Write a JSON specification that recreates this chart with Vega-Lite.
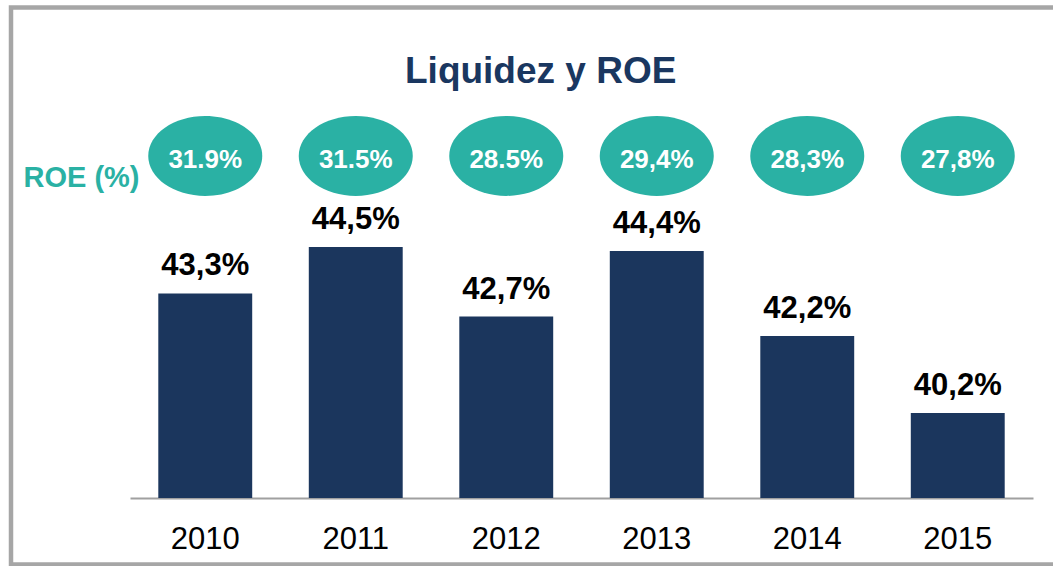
{
  "$schema": "https://vega.github.io/schema/vega-lite/v6.json",
  "autosize": {"type": "none"},
  "width": 1046,
  "height": 557,
  "padding": {"left": 11, "top": 7.5, "right": 0, "bottom": 1.5},
  "background": "white",
  "config": {
    "view": {"stroke": "#a6a6a6", "strokeWidth": 4.5},
    "font": "Liberation Sans"
  },
  "title": {
    "text": "Liquidez y ROE",
    "fontSize": 37,
    "fontWeight": "bold",
    "color": "#1a3760",
    "font": "Liberation Sans",
    "anchor": "start",
    "baseline": "alphabetic",
    "dx": 394,
    "dy": 35,
    "offset": -77.5
  },
  "data": {
    "values": [
      {"year": "2010", "liquidez": 43.3, "liq_label": "43,3%", "roe": 31.9, "roe_label": "31.9%"},
      {"year": "2011", "liquidez": 44.5, "liq_label": "44,5%", "roe": 31.5, "roe_label": "31.5%"},
      {"year": "2012", "liquidez": 42.7, "liq_label": "42,7%", "roe": 28.5, "roe_label": "28.5%"},
      {"year": "2013", "liquidez": 44.4, "liq_label": "44,4%", "roe": 29.4, "roe_label": "29,4%"},
      {"year": "2014", "liquidez": 42.2, "liq_label": "42,2%", "roe": 28.3, "roe_label": "28,3%"},
      {"year": "2015", "liquidez": 40.2, "liq_label": "40,2%", "roe": 27.8, "roe_label": "27,8%"}
    ]
  },
  "encoding": {
    "x": {
      "field": "year",
      "type": "nominal",
      "sort": null,
      "scale": {"range": [119, 1022], "paddingInner": 0.376, "paddingOuter": 0.188},
      "axis": {
        "title": null,
        "orient": "bottom",
        "offset": -66.5,
        "labelAngle": 0,
        "labelFontSize": 31,
        "labelColor": "#000000",
        "labelFont": "Liberation Sans",
        "labelBaseline": "alphabetic",
        "labelPadding": 50,
        "ticks": false,
        "tickSize": 0,
        "domainColor": "#a0a0a0",
        "domainWidth": 2,
        "grid": false
      }
    }
  },
  "layer": [
    {
      "mark": {"type": "bar", "color": "#1b365d"},
      "encoding": {
        "y": {
          "field": "liquidez",
          "type": "quantitative",
          "scale": {"domain": [38, 47.5], "range": [490.5, 123.8], "zero": false, "nice": false},
          "axis": {
            "title": "ROE (%)",
            "titleAngle": 0,
            "titleFontSize": 29,
            "titleFontWeight": "bold",
            "titleColor": "#2ab1a4",
            "titleFont": "Liberation Sans",
            "titleAlign": "center",
            "titleBaseline": "alphabetic",
            "titleX": 70,
            "titleY": 179,
            "labels": false,
            "ticks": false,
            "domain": false,
            "grid": false
          }
        },
        "y2": {"datum": 38}
      }
    },
    {
      "mark": {"type": "text", "fontSize": 31, "fontWeight": "bold", "color": "#000000", "baseline": "alphabetic", "dy": -18, "font": "Liberation Sans"},
      "encoding": {
        "y": {"field": "liquidez", "type": "quantitative"},
        "text": {"field": "liq_label"}
      }
    },
    {
      "mark": {"type": "point", "filled": true, "shape": "M-1,0A1,0.7 0 1,0 1,0A1,0.7 0 1,0 -1,0Z", "size": 12996, "color": "#2ab1a4", "opacity": 1, "strokeWidth": 0},
      "encoding": {
        "y": {"datum": 46.86}
      }
    },
    {
      "mark": {"type": "text", "fontSize": 26, "fontWeight": "bold", "color": "#ffffff", "baseline": "alphabetic", "dy": 12, "font": "Liberation Sans"},
      "encoding": {
        "y": {"datum": 46.86},
        "text": {"field": "roe_label"}
      }
    }
  ]
}
